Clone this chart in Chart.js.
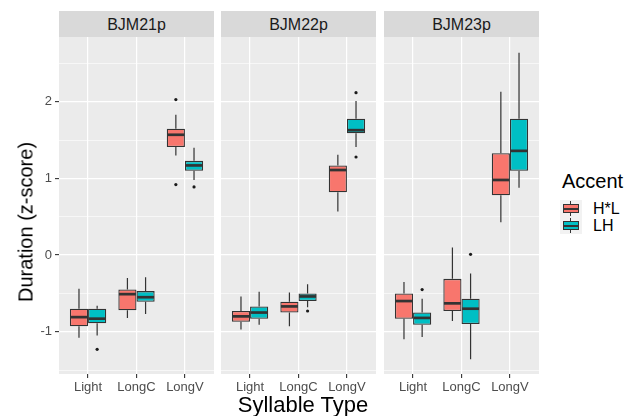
<!DOCTYPE html>
<html>
<head>
<meta charset="utf-8">
<script src="https://cdn.jsdelivr.net/npm/chart.js@4.4.1/dist/chart.umd.min.js"></script>
<style>
  body { margin: 0; background: #fff; width: 627px; height: 416px; position: relative; overflow: hidden;
         font-family: "Liberation Sans", Arial, sans-serif; }
  canvas { position: absolute; top: 37px; }
  .strip { position: absolute; top: 11px; height: 26px; width: 155px; background: #D9D9D9; color: #1A1A1A;
           font-size: 16px; line-height: 27px; text-align: center; }
  #ytitle { position: absolute; left: 26px; top: 222px; transform: translate(-50%, -50%) rotate(-90deg);
            font-size: 20px; white-space: nowrap; color: #000; }
  #xtitle { position: absolute; left: 303px; top: 405px; transform: translate(-50%, -50%);
            font-size: 22px; white-space: nowrap; color: #000; }
  #legend { position: absolute; left: 560px; top: 170px; }
  #legend .title { font-size: 20px; margin-left: 2px; margin-bottom: 7px; }
  #legend .row { height: 17px; position: relative; }
  #legend .key { position: absolute; left: 0; top: 0; width: 22px; height: 17px; background: #F2F2F2; }
  #legend .key i { position: absolute; display: block; }
  #legend .wh { left: 10px; top: 1px; width: 1.3px; height: 15px; background: #333; }
  #legend .bx { left: 3px; top: 4px; width: 14px; height: 7px; border: 1.2px solid #333; }
  #legend .md { left: 3px; top: 7.5px; width: 16px; height: 2.2px; background: #333; }
  #legend .lab { position: absolute; left: 33px; top: 0; font-size: 16px; line-height: 17px; }
</style>
</head>
<body>
<div class="strip" style="left:59px">BJM21p</div>
<div class="strip" style="left:221px">BJM22p</div>
<div class="strip" style="left:384px">BJM23p</div>
<canvas id="p1" width="214" height="367" style="left:0px"></canvas>
<canvas id="p2" width="155" height="367" style="left:221px"></canvas>
<canvas id="p3" width="155" height="367" style="left:384px"></canvas>
<div id="ytitle">Duration (z-score)</div>
<div id="xtitle">Syllable Type</div>
<div id="legend">
  <div class="title">Accent</div>
  <div class="row"><span class="key"><i class="wh"></i><i class="bx" style="background:#F8766D"></i><i class="md"></i></span><span class="lab">H*L</span></div>
  <div class="row"><span class="key"><i class="wh"></i><i class="bx" style="background:#00BFC4"></i><i class="md"></i></span><span class="lab">LH</span></div>
</div>
<script>
const facets = ["BJM21p", "BJM22p", "BJM23p"];
const syllableTypes = ["Light", "LongC", "LongV"];
const accents = ["H*L", "LH"];
const accentColors = ["#F8766D", "#00BFC4"];
const yGridValues = [-1.5, -1, -0.5, 0, 0.5, 1, 1.5, 2, 2.5];

// box stats per syllable type: [lower whisker, Q1, median, Q3, upper whisker]
const bjm21pHL = [[-1.08, -0.93, -0.81, -0.70, -0.44], [-0.82, -0.72, -0.51, -0.45, -0.30], [1.30, 1.41, 1.57, 1.65, 1.83]];
const bjm21pLH = [[-1.05, -0.89, -0.83, -0.70, -0.66], [-0.77, -0.61, -0.55, -0.47, -0.29], [0.98, 1.10, 1.17, 1.23, 1.40]];
const bjm22pHL = [[-0.97, -0.87, -0.80, -0.73, -0.54], [-0.93, -0.75, -0.67, -0.61, -0.49], [0.57, 0.82, 1.11, 1.17, 1.31]];
const bjm22pLH = [[-0.91, -0.83, -0.75, -0.67, -0.48], [-0.68, -0.60, -0.54, -0.50, -0.38], [1.41, 1.59, 1.63, 1.78, 2.01]];
const bjm23pHL = [[-1.10, -0.83, -0.60, -0.50, -0.35], [-0.86, -0.73, -0.63, -0.31, 0.10], [0.43, 0.78, 0.98, 1.33, 2.13]];
const bjm23pLH = [[-1.07, -0.91, -0.82, -0.75, -0.57], [-1.36, -0.90, -0.70, -0.57, -0.24], [0.88, 1.10, 1.36, 1.78, 2.64]];

// outliers per syllable type
const bjm21pHLOut = [[], [], [2.03, 0.92]];
const bjm21pLHOut = [[-1.23], [], [0.89]];
const bjm22pHLOut = [[], [], []];
const bjm22pLHOut = [[], [-0.73], [2.12, 1.28]];
const bjm23pHLOut = [[], [], []];
const bjm23pLHOut = [[-0.45], [0.01], []];

/* panel background, then whiskers, medians, outliers on top of the floating bars */
const boxPlugin = {
  id: "boxWhiskers",
  beforeDraw(chart) {
    const a = chart.chartArea, ctx = chart.ctx;
    ctx.save();
    ctx.fillStyle = "#EBEBEB";
    ctx.fillRect(a.left, a.top, a.right - a.left, a.bottom - a.top);
    ctx.restore();
  },
  afterDatasetsDraw(chart) {
    const ctx = chart.ctx, ys = chart.scales.y;
    ctx.save();
    chart.data.datasets.forEach((ds, d) => {
      chart.getDatasetMeta(d).data.forEach((bar, i) => {
        const [lo, q1, med, q3, hi] = ds.stats[i];
        const half = bar.width / 2;
        ctx.strokeStyle = "#333333";
        ctx.lineWidth = 1.2;
        ctx.beginPath();
        ctx.moveTo(bar.x, ys.getPixelForValue(q3));
        ctx.lineTo(bar.x, ys.getPixelForValue(hi));
        ctx.moveTo(bar.x, ys.getPixelForValue(q1));
        ctx.lineTo(bar.x, ys.getPixelForValue(lo));
        ctx.stroke();
        ctx.lineWidth = 2.7;
        ctx.beginPath();
        ctx.moveTo(bar.x - half + 0.6, ys.getPixelForValue(med));
        ctx.lineTo(bar.x + half - 0.6, ys.getPixelForValue(med));
        ctx.stroke();
        ctx.fillStyle = "#1A1A1A";
        ds.outliers[i].forEach(v => {
          ctx.beginPath();
          ctx.arc(bar.x, ys.getPixelForValue(v), 1.6, 0, Math.PI * 2);
          ctx.fill();
        });
      });
    });
    ctx.restore();
  }
};

function makePanel(id, hl, lh, hlOut, lhOut, showY) {
  const series = [hl, lh];
  const outs = [hlOut, lhOut];
  return new Chart(document.getElementById(id), {
    type: "bar",
    data: {
      datasets: series.map((s, k) => ({
        label: accents[k],
        data: s.map((r, i) => ({ x: i + 1, y: [r[1], r[3]] })),
        stats: s,
        outliers: outs[k],
        backgroundColor: accentColors[k],
        borderColor: "#333333",
        borderWidth: 1.3,
        borderSkipped: false,
        categoryPercentage: 0.75,
        barPercentage: 1
      }))
    },
    options: {
      responsive: false,
      animation: false,
      layout: { padding: 0 },
      plugins: { legend: { display: false }, tooltip: { enabled: false } },
      scales: {
        x: {
          type: "linear",
          min: 0.4,
          max: 3.6,
          offset: false,
          afterBuildTicks: s => { s.ticks = [1, 2, 3].map(v => ({ value: v })); },
          afterFit: s => { s.height = 30; s.paddingLeft = 0; s.paddingRight = 0; },
          ticks: {
            callback: v => syllableTypes[v - 1],
            color: "#4D4D4D",
            font: { size: 13, family: "'Liberation Sans', Arial, sans-serif" },
            padding: 2,
            autoSkip: false,
            maxRotation: 0
          },
          grid: { offset: false, color: "#FFFFFF", lineWidth: 1.2, tickColor: "#333333", tickWidth: 1.1, tickLength: 4 },
          border: { display: false }
        },
        y: {
          min: -1.552,
          max: 2.846,
          afterBuildTicks: s => { s.ticks = yGridValues.map(v => ({ value: v })); },
          afterFit: s => { s.width = showY ? 59 : 0; s.paddingTop = 0; s.paddingBottom = 0; },
          ticks: {
            display: showY,
            callback: v => Number.isInteger(v) ? String(v) : "",
            color: "#4D4D4D",
            font: { size: 13, family: "'Liberation Sans', Arial, sans-serif" },
            padding: 3
          },
          grid: {
            color: "#FFFFFF",
            lineWidth: c => Number.isInteger(c.tick.value) ? 1.2 : 0.6,
            tickColor: c => Number.isInteger(c.tick.value) ? "#333333" : "rgba(0,0,0,0)",
            tickWidth: 1.1,
            tickLength: 4,
            drawTicks: showY
          },
          border: { display: false }
        }
      }
    },
    plugins: [boxPlugin]
  });
}

makePanel("p1", bjm21pHL, bjm21pLH, bjm21pHLOut, bjm21pLHOut, true);
makePanel("p2", bjm22pHL, bjm22pLH, bjm22pHLOut, bjm22pLHOut, false);
makePanel("p3", bjm23pHL, bjm23pLH, bjm23pHLOut, bjm23pLHOut, false);
</script>
</body>
</html>
